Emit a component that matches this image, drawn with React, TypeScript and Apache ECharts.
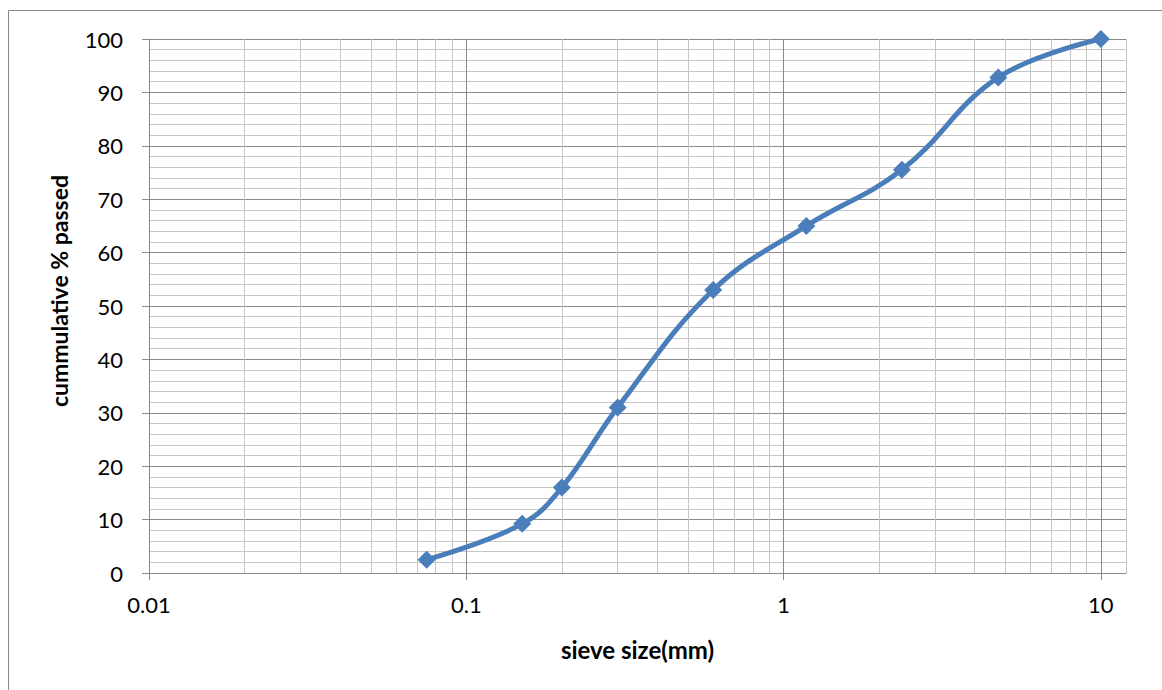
import React, { useEffect, useRef } from "react";
import * as echarts from "echarts";

const sieveSizes = [0.075, 0.15, 0.2, 0.3, 0.6, 1.18, 2.36, 4.75, 10];
const percentPassed = [2.5, 9.2, 16, 31, 53, 65, 75.5, 92.8, 100];
const xMajorTicks = [0.01, 0.1, 1, 10];
const xMinorGrid = [
  0.02, 0.03, 0.04, 0.05, 0.06, 0.07, 0.08, 0.09,
  0.2, 0.3, 0.4, 0.5, 0.6, 0.7, 0.8, 0.9,
  2, 3, 4, 5, 6, 7, 8, 9,
];
const xMin = 0.01;
const xMax = 12;
const yTicks = [0, 10, 20, 30, 40, 50, 60, 70, 80, 90, 100];

const FONT = "Lato, 'Open Sans', sans-serif";
const MAJOR = "#8a8a8a";
const MINOR = "#c6c6c6";
const BLUE = "#4a7ebb";

export default function App() {
  const ref = useRef<HTMLDivElement>(null);
  useEffect(() => {
    if (!ref.current) return;
    const chart = echarts.init(ref.current, null, { renderer: "svg" });
    const points = sieveSizes.map((s, i) => [s, percentPassed[i]]);
    const vLines = [
      ...xMinorGrid.map((v) => ({ xAxis: v, lineStyle: { color: MINOR } })),
      ...xMajorTicks.slice(1).map((v) => ({ xAxis: v, lineStyle: { color: MAJOR } })),
      { xAxis: xMax, lineStyle: { color: MINOR } },
    ];
    chart.setOption({
      animation: false,
      grid: { left: 149, right: 36, top: 39, bottom: 117 },
      xAxis: {
        type: "log",
        logBase: 10,
        min: xMin,
        max: xMax,
        axisLine: { show: true, lineStyle: { color: MAJOR, width: 1 } },
        axisTick: { show: true, length: 7, customValues: xMajorTicks, lineStyle: { color: MAJOR } },
        axisLabel: {
          customValues: xMajorTicks,
          formatter: (v: number) => String(v),
          color: "#000",
          fontSize: 22,
          fontFamily: FONT,
          margin: 20,
        },
        splitLine: { show: false },
        minorTick: { show: false },
        name: "sieve size(mm)",
        nameLocation: "middle",
        nameGap: 64,
        nameTextStyle: { color: "#000", fontSize: 24, fontWeight: "bold", fontFamily: FONT },
      },
      yAxis: {
        type: "value",
        min: 0,
        max: 100,
        interval: 10,
        axisLine: { show: true, lineStyle: { color: MAJOR, width: 1 } },
        axisTick: { show: true, length: 7, lineStyle: { color: MAJOR } },
        axisLabel: {
          color: "#000",
          fontSize: 22,
          fontFamily: FONT,
          margin: 26,
          customValues: yTicks,
        },
        splitLine: { show: true, lineStyle: { color: MAJOR, width: 1 } },
        minorTick: { show: false, splitNumber: 5 },
        minorSplitLine: { show: true, lineStyle: { color: MINOR, width: 1 } },
      },
      graphic: [
        {
          type: "rect",
          shape: { x: 8.5, y: 10.5, width: 1400, height: 900 },
          style: { fill: "none", stroke: "#8a8a8a", lineWidth: 1 },
          silent: true,
        },
        {
          type: "text",
          x: 59,
          y: 291,
          rotation: Math.PI / 2,
          style: {
            text: "cummulative % passed",
            fill: "#000",
            font: `bold 23px ${FONT}`,
            align: "center",
            verticalAlign: "middle",
          },
          silent: true,
        },
      ],
      series: [
        {
          type: "line",
          data: [],
          z: 1,
          silent: true,
          markLine: {
            silent: true,
            symbol: ["none", "none"],
            label: { show: false },
            emphasis: { disabled: true },
            lineStyle: { type: "solid", width: 1 },
            data: vLines,
          },
        },
        {
          type: "line",
          data: points,
          z: 5,
          smooth: 0.4,
          symbol: "diamond",
          symbolSize: 18,
          lineStyle: { color: BLUE, width: 5 },
          itemStyle: { color: BLUE },
        },
      ],
    });
    return () => chart.dispose();
  }, []);
  return (
    <div
      ref={ref}
      style={{ position: "absolute", left: 0, top: 0, width: 1162, height: 690, background: "#fff" }}
    />
  );
}
